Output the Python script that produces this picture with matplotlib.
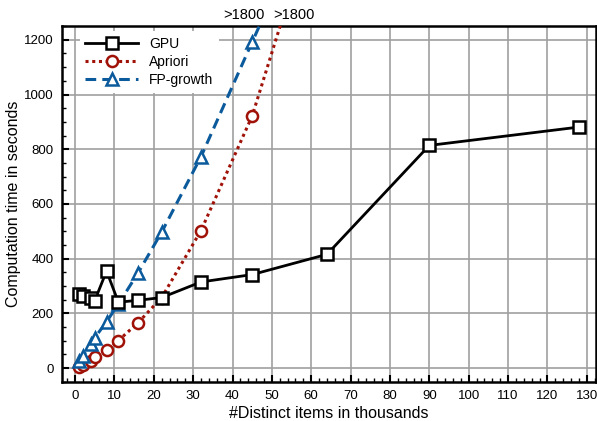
import numpy as np
import matplotlib.pyplot as plt
from matplotlib.ticker import MultipleLocator

plt.rcParams['font.family'] = ['Liberation Sans', 'DejaVu Sans']

# data (thousands of items, seconds)
gpu_x = [1, 2, 4, 5, 8, 11, 16, 22, 32, 45, 64, 90, 128]
gpu_y = [272, 262, 255, 247, 355, 241, 248, 258, 315, 342, 416, 814, 881]

apriori_x = [1, 2, 4, 5, 8, 11, 16, 22, 32, 45, 64]
apriori_y = [6, 10, 28, 40, 65, 101, 166, 258, 503, 922, 1800]

fp_x = [1, 2, 4, 5, 8, 11, 16, 22, 32, 45, 64]
fp_y = [28, 44, 88, 111, 170, 234, 348, 497, 773, 1192, 1800]

over_label = ">1800"
over_x = [43, 55.5]

fig = plt.figure(figsize=(5.97, 4.21), dpi=100)
ax = fig.add_axes([0.104, 0.093, 0.894, 0.845])

ax.plot(gpu_x, gpu_y, color="black", lw=2, ls="-", marker="s", ms=8,
        mfc="white", mec="black", mew=1.8, label="GPU", zorder=5)
ax.plot(apriori_x, apriori_y, color="#a01208", lw=2.2, ls=(0, (1, 1.2)), marker="o", ms=8,
        mfc="white", mec="#a01208", mew=1.8, label="Apriori", zorder=4)
ax.plot(fp_x, fp_y, color="#0a5a9c", lw=2.2, ls=(0, (3.5, 2)), marker="^", ms=9,
        mfc="white", mec="#0a5a9c", mew=1.8, label="FP-growth", zorder=4)

ax.set_xlim(-3.3, 132.3)
ax.set_ylim(-50, 1250)
ax.xaxis.set_major_locator(MultipleLocator(10))
ax.xaxis.set_minor_locator(MultipleLocator(2))
ax.yaxis.set_major_locator(MultipleLocator(200))
ax.yaxis.set_minor_locator(MultipleLocator(50))
ax.tick_params(which="major", direction="in", length=5, width=1.5, labelsize=9.5, pad=6)
ax.tick_params(which="minor", direction="in", length=3, width=1)
ax.grid(True, which="major", color="#a0a0a0", lw=1.2)
ax.set_axisbelow(True)
for s in ax.spines.values():
    s.set_linewidth(1.8)

ax.set_xlabel("#Distinct items in thousands", fontsize=11.5, labelpad=3)
ax.set_ylabel("Computation time in seconds", fontsize=11.5, labelpad=2)

for xv in over_x:
    ax.text(xv, 1265, over_label, ha="center", va="bottom", fontsize=10.5, clip_on=False)

leg = ax.legend(loc="upper left", bbox_to_anchor=(0.02, 1.005), frameon=True, fancybox=False,
                edgecolor="none", facecolor="white", framealpha=1, fontsize=10,
                handlelength=3.8, handletextpad=0.8, labelspacing=0.3, borderpad=0.4)

fig.savefig("out.png", dpi=100)
